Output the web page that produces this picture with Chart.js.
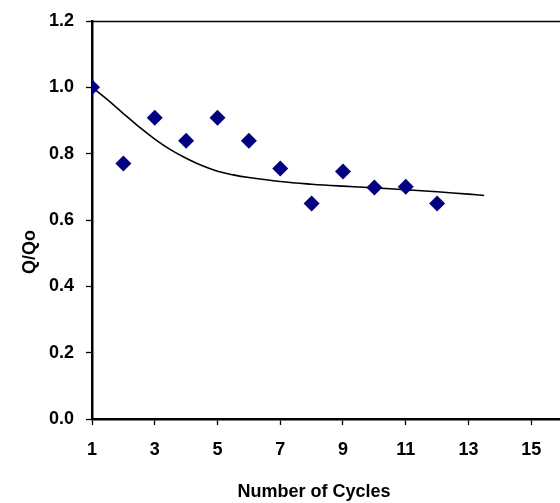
<!DOCTYPE html>
<html>
<head>
<meta charset="utf-8">
<script src="https://cdn.jsdelivr.net/npm/chart.js@4/dist/chart.umd.min.js"></script>
<style>
  html, body { margin: 0; padding: 0; background: #fff; overflow: hidden; }
  #wrap { width: 620px; height: 503px; }
</style>
</head>
<body>
<div id="wrap"><canvas id="chart" width="620" height="503"></canvas></div>
<script>
// measured points
const cycles = [1, 2, 3, 4, 5, 6, 7, 8, 9, 10, 11, 12];
const ratio = [1.0, 0.77, 0.908, 0.839, 0.908, 0.839, 0.755, 0.65, 0.746, 0.698, 0.70, 0.65];

// trend curve
const trendX = [1, 1.5, 2, 2.5, 3, 3.5, 4, 4.5, 5, 5.5, 6, 7, 8, 9, 10, 11, 12, 13, 13.5];
const trendY = [1.0, 0.962, 0.921, 0.881, 0.844, 0.812, 0.786, 0.764, 0.747, 0.736, 0.728, 0.716, 0.708, 0.702, 0.697, 0.691, 0.685, 0.678, 0.674];

const yTicks = [0, 0.2, 0.4, 0.6, 0.8, 1.0, 1.2];

const font = { family: '"Liberation Sans", Arial, sans-serif', weight: 'bold', size: 18, lineHeight: 1 };

// thin box around plot area + axis titles
const frame = {
  id: 'frame',
  beforeDatasetsDraw(chart) {
    const { ctx, chartArea: a } = chart;
    ctx.save();
    ctx.strokeStyle = '#000';
    ctx.lineWidth = 1.3;
    ctx.beginPath();
    ctx.moveTo(a.left, a.top + 0.5);
    ctx.lineTo(a.right, a.top + 0.5);
    ctx.lineTo(a.right, a.bottom);
    ctx.stroke();
    ctx.restore();
  },
  afterDraw(chart) {
    const { ctx } = chart;
    ctx.save();
    ctx.fillStyle = '#000';
    ctx.font = 'bold 18px "Liberation Sans", Arial, sans-serif';
    ctx.textAlign = 'center';
    ctx.textBaseline = 'middle';
    ctx.fillText('Number of Cycles', 314, 492);
    ctx.translate(30, 252);
    ctx.rotate(-Math.PI / 2);
    ctx.fillText('Q/Qo', 0, 0);
    ctx.restore();
  }
};

new Chart(document.getElementById('chart').getContext('2d'), {
  type: 'scatter',
  data: {
    datasets: [
      {
        label: 'Q/Qo',
        data: cycles.map((c, i) => ({ x: c, y: ratio[i] })),
        pointStyle: 'rectRot',
        pointRadius: 8,
        pointHoverRadius: 8,
        backgroundColor: '#000080',
        borderColor: '#000080',
        borderWidth: 0,
        order: 1
      },
      {
        label: 'trend',
        data: trendX.map((x, i) => ({ x: x, y: trendY[i] })),
        showLine: true,
        borderColor: '#000',
        borderWidth: 1.6,
        pointRadius: 0,
        tension: 0.4,
        order: 2
      }
    ]
  },
  options: {
    responsive: false,
    animation: false,
    layout: { padding: { top: 20, right: 26, left: 0, bottom: 0 } },
    plugins: { legend: { display: false }, tooltip: { enabled: false } },
    scales: {
      x: {
        type: 'linear',
        min: 1,
        max: 17,
        afterBuildTicks(axis) {
          const t = [];
          for (let v = 1; v <= 17; v += 2) t.push({ value: v });
          axis.ticks = t;
        },
        afterFit(axis) { axis.height = 84; },
        grid: { drawOnChartArea: false, tickLength: 6, tickColor: '#000', tickWidth: 1.3 },
        border: { color: '#000', width: 2.5 },
        ticks: { color: '#000', font: font, padding: 16, maxRotation: 0 }
      },
      y: {
        min: 0,
        max: 1.2,
        afterBuildTicks(axis) { axis.ticks = yTicks.map(v => ({ value: v })); },
        afterFit(axis) { axis.width = 92; },
        grid: { drawOnChartArea: false, tickLength: 6, tickColor: '#000', tickWidth: 1.3 },
        border: { color: '#000', width: 2.5 },
        ticks: { color: '#000', font: font, padding: 12, callback: v => v.toFixed(1) }
      }
    }
  },
  plugins: [frame]
});
</script>
</body>
</html>
